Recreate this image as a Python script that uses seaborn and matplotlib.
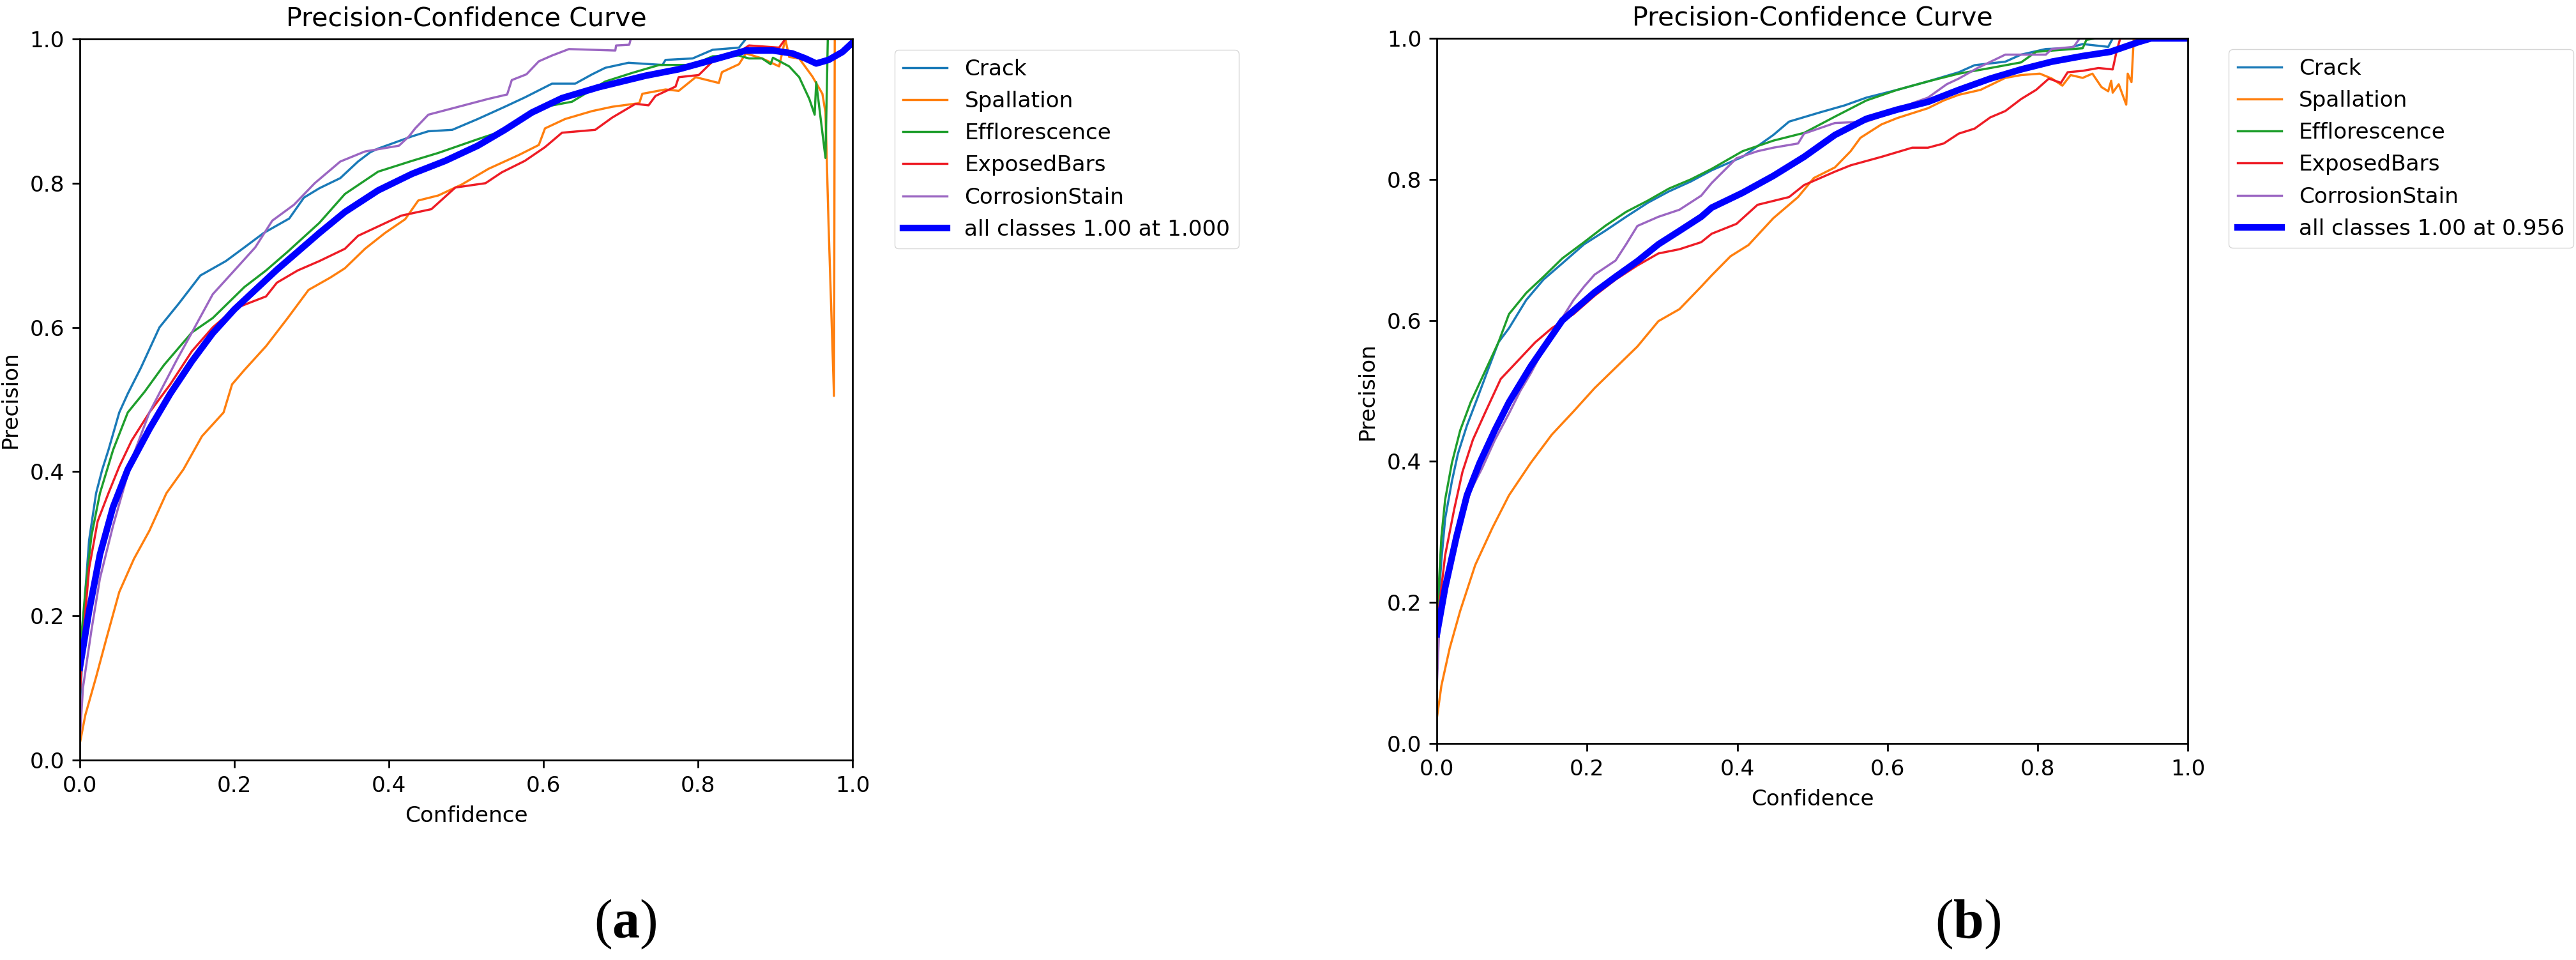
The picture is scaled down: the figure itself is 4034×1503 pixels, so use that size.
import matplotlib
matplotlib.use("Agg")
import matplotlib.pyplot as plt
import seaborn as sns
import pandas as pd

# scale factor: the source figure was rendered at roughly 2.47x the 100 dpi used here
S = 2.47

plt.rcParams.update({
    "font.family": ["DejaVu Sans"],
    "font.size": 10 * S,
    "axes.linewidth": 0.8 * S,
    "xtick.major.size": 3.5 * S,
    "ytick.major.size": 3.5 * S,
    "xtick.major.width": 0.8 * S,
    "ytick.major.width": 0.8 * S,
    "xtick.major.pad": 3.5 * S,
    "ytick.major.pad": 3.5 * S,
    "axes.labelpad": 4 * S,
    "axes.titlepad": 6 * S,
    "mathtext.fontset": "custom",
    "mathtext.rm": "Liberation Serif",
    "mathtext.bf": "Liberation Serif:bold",
})

classes = ["Crack", "Spallation", "Efflorescence", "ExposedBars", "CorrosionStain"]
colors = ["#1a7ab8", "#ff7f0e", "#1e9e2c", "#ee1c25", "#9b66c2"]

# ---- panel (a) ----
crack_a_conf = [0.0, 0.007, 0.012, 0.021, 0.029, 0.037, 0.051, 0.062, 0.079, 0.103, 0.128, 0.156, 0.189, 0.213,
                0.238, 0.271, 0.29, 0.31, 0.337, 0.36, 0.376, 0.386, 0.43, 0.451, 0.482, 0.515, 0.55, 0.576, 0.611,
                0.641, 0.663, 0.68, 0.71, 0.754, 0.758, 0.793, 0.819, 0.853, 0.862, 1.0]
crack_a_prec = [0.07, 0.233, 0.305, 0.37, 0.403, 0.43, 0.482, 0.508, 0.544, 0.6, 0.633, 0.672, 0.692, 0.711,
                0.731, 0.751, 0.78, 0.793, 0.807, 0.83, 0.843, 0.848, 0.865, 0.872, 0.874, 0.889, 0.906, 0.919, 0.938,
                0.938, 0.951, 0.96, 0.967, 0.964, 0.971, 0.973, 0.985, 0.988, 1.0, 1.0]

spall_a_conf = [0.0, 0.007, 0.021, 0.034, 0.051, 0.07, 0.09, 0.112, 0.134, 0.158, 0.186, 0.197, 0.213, 0.241, 0.269,
                0.296, 0.324, 0.343, 0.369, 0.395, 0.421, 0.438, 0.464, 0.494, 0.529, 0.568, 0.594, 0.602, 0.628,
                0.663, 0.689, 0.724, 0.728, 0.758, 0.775, 0.797, 0.827, 0.831, 0.853, 0.862, 0.883, 0.905, 0.913,
                0.918, 0.931, 0.948, 0.961, 0.965, 0.969, 0.976, 0.977, 1.0]
spall_a_prec = [0.023, 0.062, 0.115, 0.167, 0.233, 0.279, 0.318, 0.37, 0.403, 0.449, 0.482, 0.521, 0.541, 0.574, 0.613,
                0.652, 0.669, 0.682, 0.709, 0.731, 0.75, 0.776, 0.783, 0.798, 0.82, 0.839, 0.853, 0.876, 0.889,
                0.9, 0.906, 0.911, 0.924, 0.93, 0.928, 0.947, 0.939, 0.954, 0.965, 0.98, 0.973, 0.962, 1.0,
                0.975, 0.973, 0.948, 0.924, 0.898, 0.742, 0.505, 1.0, 1.0]

effl_a_conf = [0.0, 0.007, 0.015, 0.026, 0.043, 0.062, 0.084, 0.109, 0.145, 0.172, 0.213, 0.241, 0.269, 0.31, 0.343,
               0.386, 0.43, 0.464, 0.515, 0.546, 0.576, 0.602, 0.637, 0.68, 0.715, 0.75, 0.793, 0.819, 0.853, 0.866,
               0.883, 0.894, 0.897, 0.918, 0.931, 0.944, 0.951, 0.953, 0.965, 0.968, 1.0]
effl_a_prec = [0.148, 0.233, 0.311, 0.37, 0.43, 0.482, 0.511, 0.548, 0.593, 0.613, 0.656, 0.679, 0.705, 0.745, 0.785,
               0.816, 0.831, 0.842, 0.861, 0.872, 0.895, 0.906, 0.913, 0.941, 0.953, 0.964, 0.964, 0.976, 0.977, 0.973,
               0.973, 0.965, 0.974, 0.962, 0.947, 0.917, 0.895, 0.94, 0.835, 1.0, 1.0]

bars_a_conf = [0.0, 0.004, 0.012, 0.023, 0.037, 0.051, 0.067, 0.09, 0.117, 0.145, 0.172, 0.2, 0.241, 0.255, 0.282,
               0.31, 0.343, 0.36, 0.386, 0.416, 0.455, 0.486, 0.525, 0.546, 0.576, 0.602, 0.624, 0.667, 0.689, 0.719,
               0.736, 0.745, 0.771, 0.775, 0.801, 0.819, 0.845, 0.866, 0.905, 0.913, 1.0]
bars_a_prec = [0.089, 0.167, 0.266, 0.331, 0.37, 0.407, 0.443, 0.482, 0.521, 0.567, 0.6, 0.626, 0.643, 0.662, 0.679,
               0.692, 0.709, 0.727, 0.74, 0.755, 0.764, 0.794, 0.8, 0.815, 0.831, 0.85, 0.87, 0.874, 0.891, 0.91,
               0.908, 0.921, 0.934, 0.947, 0.95, 0.969, 0.976, 0.991, 0.988, 1.0, 1.0]

stain_a_conf = [0.0, 0.004, 0.015, 0.026, 0.043, 0.059, 0.07, 0.09, 0.106, 0.125, 0.142, 0.172, 0.2, 0.227, 0.249,
                0.277, 0.304, 0.337, 0.369, 0.413, 0.426, 0.434, 0.451, 0.49, 0.529, 0.553, 0.559, 0.578, 0.594,
                0.611, 0.633, 0.693, 0.694, 0.711, 0.713, 1.0]
stain_a_prec = [0.03, 0.10, 0.18, 0.252, 0.325, 0.385, 0.425, 0.482, 0.515, 0.554, 0.587, 0.646, 0.679, 0.711, 0.748,
                0.77, 0.8, 0.83, 0.844, 0.852, 0.865, 0.876, 0.895, 0.906, 0.917, 0.923, 0.943, 0.951, 0.969,
                0.977, 0.986, 0.984, 0.991, 0.992, 1.0, 1.0]

mean_a_conf = [0.0, 0.012, 0.026, 0.043, 0.062, 0.09, 0.117, 0.145, 0.172, 0.2, 0.227, 0.255, 0.282, 0.31, 0.343,
               0.386, 0.43, 0.473, 0.515, 0.55, 0.585, 0.624, 0.671, 0.732, 0.775, 0.819, 0.862, 0.897, 0.922, 0.939,
               0.953, 0.969, 0.987, 1.0]
mean_a_prec = [0.128, 0.207, 0.285, 0.351, 0.403, 0.459, 0.508, 0.553, 0.592, 0.625, 0.652, 0.68, 0.705, 0.731, 0.76,
               0.79, 0.813, 0.831, 0.852, 0.874, 0.898, 0.918, 0.933, 0.949, 0.958, 0.971, 0.984, 0.984, 0.98, 0.973,
               0.966, 0.971, 0.982, 0.995]

# ---- panel (b) ----
crack_b_conf = [0.0, 0.006, 0.011, 0.02, 0.028, 0.04, 0.054, 0.068, 0.082, 0.096, 0.119, 0.142, 0.167, 0.196, 0.224,
                0.252, 0.281, 0.309, 0.338, 0.366, 0.407, 0.448, 0.469, 0.51, 0.543, 0.572, 0.613, 0.654, 0.695,
                0.716, 0.757, 0.778, 0.811, 0.84, 0.86, 0.894, 0.9, 1.0]
crack_b_prec = [0.168, 0.26, 0.319, 0.372, 0.411, 0.451, 0.49, 0.53, 0.569, 0.589, 0.629, 0.658, 0.681, 0.708, 0.727,
                0.747, 0.767, 0.783, 0.797, 0.813, 0.832, 0.863, 0.882, 0.895, 0.905, 0.916, 0.927, 0.939, 0.952,
                0.962, 0.967, 0.977, 0.985, 0.986, 0.992, 0.988, 1.0, 1.0]

spall_b_conf = [0.0, 0.006, 0.017, 0.031, 0.051, 0.074, 0.096, 0.125, 0.153, 0.182, 0.21, 0.238, 0.267, 0.295, 0.323,
                0.352, 0.366, 0.391, 0.415, 0.448, 0.481, 0.502, 0.53, 0.551, 0.564, 0.592, 0.613, 0.654, 0.675,
                0.695, 0.724, 0.757, 0.778, 0.803, 0.819, 0.833, 0.844, 0.86, 0.873, 0.885, 0.894, 0.898, 0.9,
                0.908, 0.918, 0.92, 0.925, 0.928, 1.0]
spall_b_prec = [0.036, 0.082, 0.135, 0.188, 0.253, 0.306, 0.352, 0.398, 0.438, 0.471, 0.504, 0.533, 0.563, 0.599, 0.616,
                0.648, 0.664, 0.691, 0.707, 0.745, 0.775, 0.802, 0.817, 0.84, 0.859, 0.878, 0.887, 0.901, 0.912,
                0.92, 0.927, 0.944, 0.948, 0.95, 0.943, 0.933, 0.948, 0.944, 0.95, 0.931, 0.925, 0.94, 0.923,
                0.935, 0.906, 0.95, 0.938, 1.0, 1.0]

effl_b_conf = [0.0, 0.006, 0.011, 0.02, 0.031, 0.045, 0.062, 0.082, 0.096, 0.119, 0.142, 0.167, 0.196, 0.224, 0.252,
               0.281, 0.309, 0.338, 0.366, 0.407, 0.448, 0.489, 0.53, 0.572, 0.613, 0.654, 0.695, 0.737, 0.778, 0.798,
               0.86, 0.865, 0.877, 1.0]
effl_b_prec = [0.174, 0.293, 0.346, 0.398, 0.444, 0.484, 0.523, 0.569, 0.609, 0.639, 0.662, 0.688, 0.711, 0.734, 0.754,
               0.77, 0.787, 0.8, 0.815, 0.84, 0.855, 0.866, 0.889, 0.912, 0.927, 0.939, 0.95, 0.958, 0.966, 0.981,
               0.986, 0.998, 1.0, 1.0]

bars_b_conf = [0.0, 0.003, 0.011, 0.023, 0.034, 0.048, 0.065, 0.085, 0.108, 0.131, 0.153, 0.182, 0.21, 0.238, 0.267,
               0.295, 0.323, 0.352, 0.366, 0.399, 0.427, 0.469, 0.489, 0.53, 0.551, 0.592, 0.633, 0.654, 0.675, 0.695,
               0.716, 0.737, 0.757, 0.778, 0.798, 0.815, 0.831, 0.84, 0.86, 0.881, 0.9, 0.905, 0.91, 1.0]
bars_b_prec = [0.102, 0.194, 0.267, 0.332, 0.385, 0.431, 0.471, 0.517, 0.543, 0.569, 0.589, 0.609, 0.635, 0.658, 0.678,
               0.695, 0.701, 0.711, 0.723, 0.737, 0.764, 0.775, 0.792, 0.811, 0.82, 0.832, 0.845, 0.845, 0.851, 0.865,
               0.872, 0.888, 0.897, 0.914, 0.927, 0.943, 0.937, 0.952, 0.954, 0.958, 0.956, 0.981, 1.0, 1.0]

stain_b_conf = [0.0, 0.003, 0.009, 0.02, 0.031, 0.045, 0.06, 0.077, 0.096, 0.111, 0.125, 0.139, 0.153, 0.182, 0.196,
                0.21, 0.238, 0.252, 0.267, 0.295, 0.323, 0.352, 0.366, 0.399, 0.427, 0.448, 0.481, 0.489, 0.53, 0.572,
                0.613, 0.633, 0.654, 0.679, 0.695, 0.72, 0.757, 0.811, 0.819, 0.848, 0.856, 1.0]
stain_b_prec = [0.082, 0.161, 0.214, 0.26, 0.306, 0.359, 0.39, 0.43, 0.468, 0.5, 0.525, 0.553, 0.58, 0.629, 0.648,
                0.665, 0.685, 0.708, 0.734, 0.747, 0.757, 0.777, 0.795, 0.83, 0.84, 0.845, 0.851, 0.865, 0.88, 0.882,
                0.897, 0.908, 0.916, 0.935, 0.943, 0.958, 0.977, 0.977, 0.985, 0.988, 1.0, 1.0]

mean_b_conf = [0.0, 0.011, 0.026, 0.04, 0.057, 0.077, 0.096, 0.125, 0.167, 0.21, 0.238, 0.267, 0.295, 0.323, 0.352,
               0.366, 0.407, 0.448, 0.489, 0.53, 0.572, 0.613, 0.654, 0.695, 0.737, 0.778, 0.819, 0.86, 0.897, 0.916,
               0.935, 0.951, 1.0]
mean_b_prec = [0.155, 0.221, 0.293, 0.352, 0.398, 0.444, 0.484, 0.535, 0.6, 0.64, 0.662, 0.684, 0.708, 0.727, 0.747,
               0.76, 0.781, 0.805, 0.832, 0.863, 0.886, 0.899, 0.91, 0.927, 0.943, 0.956, 0.967, 0.975, 0.981, 0.988,
               0.995, 1.0, 1.0]

panel_a = [(crack_a_conf, crack_a_prec), (spall_a_conf, spall_a_prec), (effl_a_conf, effl_a_prec),
           (bars_a_conf, bars_a_prec), (stain_a_conf, stain_a_prec)]
panel_b = [(crack_b_conf, crack_b_prec), (spall_b_conf, spall_b_prec), (effl_b_conf, effl_b_prec),
           (bars_b_conf, bars_b_prec), (stain_b_conf, stain_b_prec)]


def draw_panel(ax, curves, mean_conf, mean_prec, mean_label):
    for name, col, (cx, cy) in zip(classes, colors, curves):
        df = pd.DataFrame({"Confidence": cx, "Precision": cy})
        sns.lineplot(data=df, x="Confidence", y="Precision", ax=ax, color=col,
                     linewidth=1 * S, label=name, estimator=None, sort=False)
    dm = pd.DataFrame({"Confidence": mean_conf, "Precision": mean_prec})
    sns.lineplot(data=dm, x="Confidence", y="Precision", ax=ax, color="blue",
                 linewidth=3 * S, label=mean_label, estimator=None, sort=False)
    ax.set_xlim(0, 1)
    ax.set_ylim(0, 1)
    ax.set_xlabel("Confidence")
    ax.set_ylabel("Precision")
    ax.set_title("Precision-Confidence Curve", fontsize=12 * S)
    ax.legend(bbox_to_anchor=(1.04, 1), loc="upper left", fontsize=10 * S)


fig = plt.figure(figsize=(40.34, 15.03), dpi=100)
ax_a = fig.add_axes([0.031, 0.2083, 0.29995, 0.7511])
ax_b = fig.add_axes([0.5578, 0.2255, 0.2915, 0.7345])

draw_panel(ax_a, panel_a, mean_a_conf, mean_a_prec, "all classes 1.00 at 1.000")
draw_panel(ax_b, panel_b, mean_b_conf, mean_b_prec, "all classes 1.00 at 0.956")

fig.text(0.2427, 0.037, r"$\mathrm{(}\mathbf{a}\mathrm{)}$", fontsize=62, ha="center", va="center")
fig.text(0.764, 0.037, r"$\mathrm{(}\mathbf{b}\mathrm{)}$", fontsize=62, ha="center", va="center")

fig.savefig("out.png", dpi=100)
